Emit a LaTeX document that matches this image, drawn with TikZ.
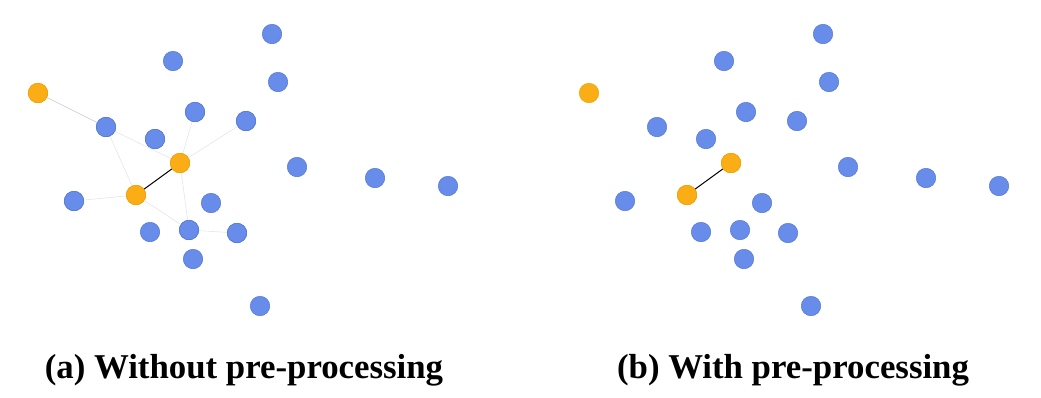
\documentclass[tikz,border=0pt]{standalone}
\usepackage{fontspec}
\setmainfont{Liberation Serif}
\definecolor{nblue}{RGB}{104,140,234}
\definecolor{nblueb}{RGB}{84,118,214}
\definecolor{norange}{RGB}{250,173,20}
\definecolor{noranged}{RGB}{240,160,10}
\begin{document}
\begin{tikzpicture}[x=1pt,y=-1pt,
  bnode/.style={circle,fill=nblue,draw=nblueb,line width=0.5pt,minimum size=19.5pt,inner sep=0pt},
  onode/.style={circle,fill=norange,draw=noranged,line width=0.5pt,minimum size=19.5pt,inner sep=0pt},
  faint/.style={draw=black!22,line width=0.6pt},
  fainter/.style={draw=black!10,line width=0.6pt},
  strong/.style={draw=black,line width=1pt},
  captext/.style={anchor=base,font=\bfseries\fontsize{34.8}{40}\selectfont}]
\useasboundingbox (0,0) rectangle (1041,397);
\foreach \p/\dx in {l/0,r/551}{
  \foreach \n/\x/\y in {b1/173/61,b2/272/34,b3/278/82,b4/106/127,b5/155/139,b6/195/112,b7/246/121,b8/297/167,b9/375/178,b10/448/186,b11/74/201,b12/211/203,b13/150/232,b14/189/230,b15/237/233,b16/193/259,b17/260/306}{
    \node[bnode] (\p\n) at (\x+\dx,\y) {};
  }
  \node[onode] (\p oa) at (38+\dx,93) {};
  \node[onode] (\p ob) at (180+\dx,163) {};
  \node[onode] (\p oc) at (136+\dx,195) {};
}
% left panel edges
\draw[faint] (loa) -- (lb4);
\draw[fainter] (lb4) -- (loc);
\draw[fainter] (lb4) -- (lob);
\draw[fainter] (lob) -- (lb6);
\draw[fainter] (lob) -- (lb7);
\draw[fainter] (lob) -- (lb14);
\draw[fainter] (loc) -- (lb11);
\draw[fainter] (loc) -- (lb14);
\draw[fainter] (lb14) -- (lb15);
\draw[strong] (lob) -- (loc);
\draw[strong] (rob) -- (roc);
% redraw nodes on top of faint lines
\foreach \n in {b4,b5,b6,b7,b11,b14,b15}{\node[bnode] at (l\n) {};}
\node[onode] at (loa) {};
\node[onode] at (lob) {};
\node[onode] at (loc) {};
\node[onode] at (rob) {};
\node[onode] at (roc) {};
\node[captext] (capa) at (244,378) {(a) Without pre-processing};
\node[captext] (capb) at (793,378) {(b) With pre-processing};
\end{tikzpicture}
\end{document}
